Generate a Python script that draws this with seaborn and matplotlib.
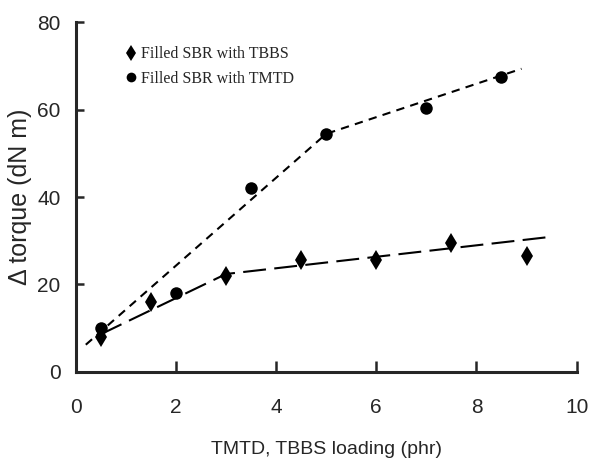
import matplotlib
matplotlib.use("Agg")
import matplotlib.pyplot as plt
import seaborn as sns
from matplotlib.lines import Line2D

# Data
tbbs_x = [0.5, 1.5, 3.0, 4.5, 6.0, 7.5, 9.0]
tbbs_y = [8.0, 16.0, 22.0, 25.5, 25.5, 29.5, 26.5]
tmtd_x = [0.5, 2.0, 3.5, 5.0, 7.0, 8.5]
tmtd_y = [10.0, 18.0, 42.0, 54.5, 60.5, 67.5]
# trend lines drawn in the figure
tbbs_fit_x = [0.5, 3.0, 9.4]
tbbs_fit_y = [8.6, 22.4, 30.8]
tmtd_fit_x = [0.2, 5.0, 8.9]
tmtd_fit_y = [6.2, 54.5, 69.4]
x_ticks = [0, 2, 4, 6, 8, 10]
y_ticks = [0, 20, 40, 60, 80]

sns.set_style("ticks")
plt.rcParams['font.family'] = ['Liberation Sans', 'DejaVu Sans']

fig = plt.figure(figsize=(5.92, 4.59), dpi=100)
ax = fig.add_axes([0.128, 0.190, 0.846, 0.761])

sns.lineplot(x=tmtd_fit_x, y=tmtd_fit_y, ax=ax, color="black", lw=1.5,
             linestyle=(0, (4, 3)))
sns.lineplot(x=tbbs_fit_x, y=tbbs_fit_y, ax=ax, color="black", lw=1.5,
             linestyle=(0, (11, 4)))
ax.plot(tbbs_x, tbbs_y, linestyle="none", marker="d", color="black",
        markersize=10.5, markeredgewidth=0)
ax.plot(tmtd_x, tmtd_y, linestyle="none", marker="o", color="black",
        markersize=9, markeredgewidth=0)

ax.set_xlim(0, 10)
ax.set_ylim(0, 80)
ax.set_xticks(x_ticks)
ax.set_yticks(y_ticks)
ax.set_xticklabels([str(t) for t in x_ticks])
ax.set_yticklabels([str(t) for t in y_ticks])
ax.tick_params(axis="x", direction="in", length=8, width=1.8, pad=19, labelsize=15)
ax.tick_params(axis="y", direction="in", length=6, width=1.8, pad=11, labelsize=15)
for s in ["top", "right"]:
    ax.spines[s].set_visible(False)
for s in ["left", "bottom"]:
    ax.spines[s].set_linewidth(2.2)

ax.set_xlabel("TMTD, TBBS loading (phr)", fontsize=14, labelpad=17)
ax.set_ylabel("\u0394 torque (dN m)", fontsize=18, labelpad=4)

handles = [
    Line2D([], [], linestyle="none", marker="d", color="black", markersize=8, markeredgewidth=0),
    Line2D([], [], linestyle="none", marker="o", color="black", markersize=7, markeredgewidth=0),
]
leg = ax.legend(handles, ["Filled SBR with TBBS", "Filled SBR with TMTD"],
                loc="upper left", bbox_to_anchor=(0.085, 0.955), frameon=False,
                handlelength=0.6, handletextpad=0.3, labelspacing=0.55,
                borderpad=0, prop={"family": "Liberation Serif", "size": 11.5})

fig.savefig("out.png", dpi=100)
